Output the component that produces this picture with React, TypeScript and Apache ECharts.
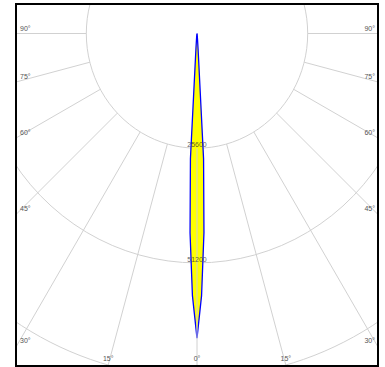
import React, { useEffect, useRef } from "react";
import * as echarts from "echarts";

// Photometric data: gamma angle (deg from nadir) and luminous intensity (cd)
const beamAngles = [0, 1, 2, 3, 4, 5, 6, 7, 8, 10, 15, 20, 30, 45, 60, 75, 90];
const beamIntensity = [68000, 58500, 44500, 28000, 3400, 1300, 700, 450, 300, 200, 100, 50, 20, 10, 5, 2, 0];

// Grid
const gridAngles = [0, 15, 30, 45, 60, 75, 90];
const angleLabels = ["0°", "15°", "30°", "45°", "60°", "75°", "90°"];
const radiusLabels = [25600, 51200];
const RADIUS_STEP = 25600;
const RADIUS_MAX = 102400;

// Layout
const W = 360;
const H = 360;
const CX = 180;
const CY = 28.5;
const PX_PER_STEP = 114.7;
const GRID_SX = 0.965; // horizontal squeeze of the circular grid (elliptic rings)
const PAD = 24;

const FONT = "Liberation Sans, Arial, sans-serif";
const GRID_COLOR = "#d0d0d0";

function angleLabelGraphics() {
  const out: any[] = [];
  const font = { fontSize: 7, fontFamily: FONT, fill: "#555" };
  gridAngles.forEach((a, i) => {
    const sides = a === 0 ? [1] : [-1, 1];
    sides.forEach((s) => {
      const r = (a * Math.PI) / 180;
      const dx = s * Math.sin(r);
      const dy = Math.cos(r);
      const tx = Math.abs(dx) > 1e-6 ? (s < 0 ? CX : W - CX) / Math.abs(dx) : Infinity;
      const ty = dy > 1e-6 ? (H - CY) / dy : Infinity;
      if (tx < ty) {
        const py = CY + tx * dy;
        out.push({
          type: "text",
          x: s < 0 ? 3 : W - 2,
          y: py - 1.5,
          z: 10,
          style: { ...font, text: angleLabels[i], align: s < 0 ? "left" : "right", verticalAlign: "bottom" },
        });
      } else {
        const px = CX + ty * dx;
        out.push({
          type: "text",
          x: px,
          y: H - 3,
          z: 10,
          style: { ...font, text: angleLabels[i], align: "center", verticalAlign: "bottom" },
        });
      }
    });
  });
  return out;
}

function hiddenAngleAxis() {
  return {
    type: "value",
    min: 0,
    max: 360,
    interval: 15,
    startAngle: 270,
    clockwise: true,
    axisLine: { show: false },
    axisTick: { show: false },
    axisLabel: { show: false },
    splitLine: { show: false },
  };
}

function radialLine(angleValue: number) {
  return {
    type: "line",
    coordinateSystem: "polar",
    silent: true,
    showSymbol: false,
    symbol: "none",
    clip: false,
    z: 3,
    lineStyle: { color: GRID_COLOR, width: 1 },
    data: [
      [RADIUS_STEP, angleValue],
      [RADIUS_MAX, angleValue],
    ],
  };
}

export default function App() {
  const gridRef = useRef<HTMLDivElement>(null);
  const ref = useRef<HTMLDivElement>(null);
  useEffect(() => {
    if (!ref.current || !gridRef.current) return;
    const polarRadius = (PX_PER_STEP * RADIUS_MAX) / RADIUS_STEP;

    // Layer 1: rings and radial grid lines (squeezed horizontally via CSS)
    const gridChart = echarts.init(gridRef.current, undefined, { renderer: "svg" });
    const radial: any[] = [];
    gridAngles.forEach((a) => {
      if (a === 0) return;
      const rad = (a * Math.PI) / 180;
      // pre-compensate the squeeze so the rays keep their true angle
      const adj = a === 90 ? 90 : (Math.atan(Math.tan(rad) / GRID_SX) * 180) / Math.PI;
      radial.push(radialLine(adj), radialLine(360 - adj));
    });
    gridChart.setOption({
      animation: false,
      polar: { center: [CX + PAD, CY], radius: polarRadius },
      angleAxis: hiddenAngleAxis(),
      radiusAxis: {
        type: "value",
        min: 0,
        max: RADIUS_MAX,
        interval: RADIUS_STEP,
        axisLine: { show: false },
        axisTick: { show: false },
        axisLabel: { show: false },
        splitLine: { show: true, lineStyle: { color: GRID_COLOR, width: 1 } },
      },
      series: radial,
    });

    // Layer 2: beam, nadir ray, labels
    const chart = echarts.init(ref.current, undefined, { renderer: "svg" });
    const beamData: any[] = [];
    for (let i = beamAngles.length - 1; i >= 0; i--) beamData.push([beamIntensity[i], beamAngles[i]]);
    for (let i = 1; i < beamAngles.length; i++) beamData.push([beamIntensity[i], 360 - beamAngles[i]]);

    chart.setOption({
      animation: false,
      polar: { center: [CX, CY], radius: polarRadius },
      angleAxis: hiddenAngleAxis(),
      radiusAxis: {
        type: "value",
        min: 0,
        max: RADIUS_MAX,
        interval: RADIUS_STEP,
        axisLine: { show: false },
        axisTick: { show: false },
        axisLabel: { show: false },
        splitLine: { show: false },
      },
      series: [
        {
          type: "line",
          coordinateSystem: "polar",
          silent: true,
          showSymbol: false,
          symbol: "none",
          z: 2,
          lineStyle: { color: "#0000ff", width: 1.3 },
          areaStyle: { color: "#ffff00", opacity: 1 },
          data: beamData,
        },
        radialLine(0),
        {
          type: "scatter",
          coordinateSystem: "polar",
          silent: true,
          symbolSize: 0,
          z: 5,
          itemStyle: { color: "transparent" },
          label: {
            show: true,
            position: "top",
            distance: 0,
            fontSize: 7,
            fontFamily: FONT,
            color: "#333",
            formatter: (p: any) => String(p.value[0]),
          },
          data: radiusLabels.map((r) => [r, 0]),
        },
      ],
      graphic: angleLabelGraphics(),
    });
    return () => {
      chart.dispose();
      gridChart.dispose();
    };
  }, []);

  return (
    <div style={{ position: "absolute", left: 0, top: 0, width: 385, height: 367, background: "#fff" }}>
      <div
        style={{
          position: "absolute",
          left: 15,
          top: 3,
          width: W,
          height: H,
          border: "2px solid #000",
          overflow: "hidden",
          background: "#fff",
        }}
      >
        <div
          ref={gridRef}
          style={{
            position: "absolute",
            left: -PAD,
            top: 0,
            width: W + 2 * PAD,
            height: H,
            transform: `scaleX(${GRID_SX})`,
            transformOrigin: `${CX + PAD}px ${CY}px`,
          }}
        />
        <div ref={ref} style={{ position: "absolute", left: 0, top: 0, width: W, height: H }} />
      </div>
    </div>
  );
}
